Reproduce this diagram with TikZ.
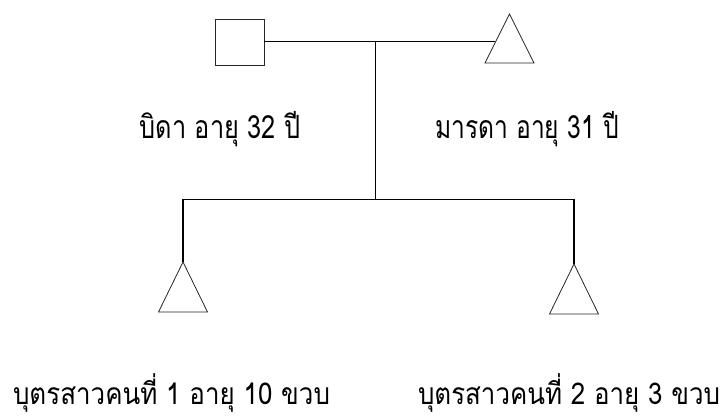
\documentclass[tikz,border=0pt]{standalone}
\usepackage{fontspec}
\usepackage{graphicx}
\newfontfamily\thaifont[Script=Thai]{Loma}
\newcommand{\fitw}[2]{\resizebox{#1}{\height}{#2}}
\begin{document}
\begin{tikzpicture}[x=1pt,y=1pt,
  lbl/.style={font=\thaifont\fontsize{32}{36}\selectfont, inner sep=0pt, anchor=base},
  lblb/.style={font=\thaifont\fontsize{30}{34}\selectfont, inner sep=0pt, anchor=base},
  link/.style={line width=1.5pt, black},
  shp/.style={line width=0.8pt, draw=black!85}]
\useasboundingbox (0,0) rectangle (723,-419);
% father (square)
\node[shp, draw, minimum width=49pt, minimum height=46pt, inner sep=0pt] (father) at (239.5,-42) {};
% mother (triangle)
\coordinate (mapex) at (509.5,-14);
\draw[shp] (mapex) -- (534,-63) -- (485,-63) -- cycle;
\coordinate (mleft) at (495.4,-41.7);
\coordinate (mid) at (375.5,-41.7);
\coordinate (low) at (375.5,-199.5);
\coordinate (lowL) at (183,-199.5);
\coordinate (lowR) at (574,-199.5);
% children triangles
\coordinate (c1) at (183,-262);
\coordinate (c2) at (574,-264);
\draw[shp] (c1) -- (207.5,-312) -- (158.5,-312) -- cycle;
\draw[shp] (c2) -- (598.5,-314) -- (549.5,-314) -- cycle;
% connectors
\draw[link] (father.east |- mid) -- (mleft);
\draw[link] (mid) -- (low);
\draw[link] (c1) -- (lowL) -- (lowR) -- (c2);
% labels
\node[lbl] (tf) at (220,-139) {\fitw{161pt}{บิดา อายุ 32 ปี}};
\node[lbl] (tm) at (527,-139) {\fitw{184pt}{มารดา อายุ 31 ปี}};
\node[lblb] (t1) at (171.5,-405) {\fitw{317pt}{บุตรสาวคนที่ 1 อายุ 10 ขวบ}};
\node[lblb] (t2) at (569,-405) {\fitw{302pt}{บุตรสาวคนที่ 2 อายุ 3 ขวบ}};
\end{tikzpicture}
\end{document}
